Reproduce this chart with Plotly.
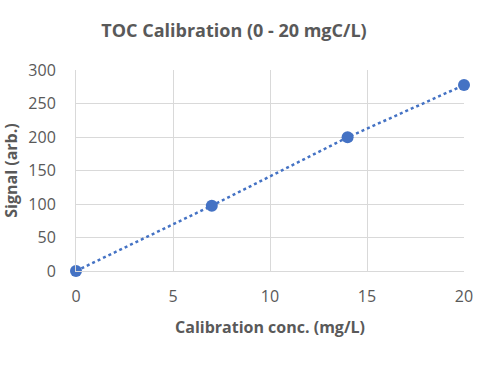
import plotly.graph_objects as go

conc = [0, 7, 14, 20]
signal = [0, 97.5, 199.5, 277.5]
x_ticks = [0, 5, 10, 15, 20]
y_ticks = [0, 50, 100, 150, 200, 250, 300]

FONT = "Open Sans"
GRAY = "#595959"
W, H = 477, 370

fig = go.Figure()
fig.add_trace(go.Scatter(
    x=conc, y=signal, mode="lines+markers",
    line=dict(color="#4472C4", width=2.5, dash="dot"),
    marker=dict(color="#4472C4", size=12),
    cliponaxis=False, showlegend=False, hoverinfo="skip",
))
fig.update_layout(
    width=W, height=H,
    margin=dict(l=76, r=13, t=70, b=99, autoexpand=False),
    paper_bgcolor="white", plot_bgcolor="white",
    font=dict(family=FONT, color=GRAY),
    title=dict(text="<b>TOC Calibration (0 - 20 mgC/L)</b>", x=234 / W, xanchor="center",
               y=1 - 31 / H, yanchor="middle",
               font=dict(size=18, color=GRAY, family=FONT)),
)
fig.update_xaxes(range=[0, 20], tickvals=x_ticks, showgrid=True, gridcolor="#d9d9d9",
                 gridwidth=1, zeroline=False, showline=True, linecolor="#d9d9d9",
                 ticks="", ticklabelstandoff=11, automargin=False,
                 ticklabeloverflow="allow",
                 tickfont=dict(size=16, color=GRAY),
                 title=dict(text="<b>Calibration conc. (mg/L)</b>", standoff=15,
                            font=dict(size=16, color=GRAY)))
fig.update_yaxes(range=[0, 300], tickvals=y_ticks, showgrid=True, gridcolor="#d9d9d9",
                 gridwidth=1, zeroline=False, showline=True, linecolor="#d9d9d9",
                 ticks="", ticklabelstandoff=16, automargin=False,
                 tickfont=dict(size=16, color=GRAY),
                 title=dict(text="<b>Signal (arb.)</b>", standoff=10,
                            font=dict(size=16, color=GRAY)))
fig.write_html("out.html", config={"displayModeBar": False},
               post_script="document.body.style.margin='0';document.body.style.overflow='hidden';")
